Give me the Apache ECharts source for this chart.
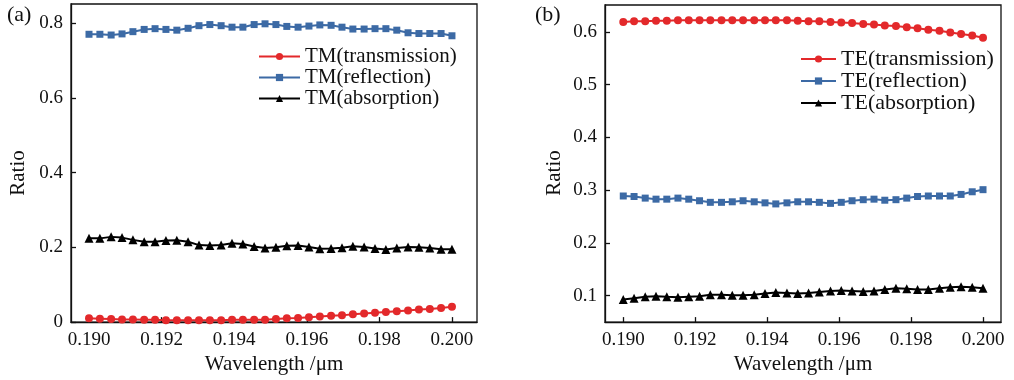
<!DOCTYPE html>
<html><head><meta charset="utf-8">
<script src="https://cdn.jsdelivr.net/npm/echarts@6/dist/echarts.min.js"></script>
<style>html,body{margin:0;padding:0;background:#fff}#c{width:1014px;height:380px}</style>
</head><body><div id="c"></div>
<script>
const wavelength = [0.19000,0.19030,0.19061,0.19091,0.19121,0.19152,0.19182,0.19212,0.19242,0.19273,0.19303,0.19333,0.19364,0.19394,0.19424,0.19455,0.19485,0.19515,0.19545,0.19576,0.19606,0.19636,0.19667,0.19697,0.19727,0.19758,0.19788,0.19818,0.19848,0.19879,0.19909,0.19939,0.19970,0.20000];
const tmTransmission = [0.010,0.009,0.008,0.007,0.007,0.006,0.006,0.005,0.005,0.005,0.005,0.005,0.005,0.006,0.006,0.006,0.006,0.008,0.010,0.011,0.013,0.015,0.017,0.018,0.021,0.023,0.025,0.027,0.029,0.031,0.034,0.035,0.038,0.041];
const tmReflection = [0.770,0.770,0.768,0.771,0.777,0.783,0.785,0.783,0.781,0.786,0.793,0.796,0.793,0.789,0.789,0.796,0.798,0.796,0.791,0.789,0.792,0.795,0.794,0.789,0.784,0.784,0.785,0.785,0.781,0.774,0.772,0.772,0.772,0.766];
const tmAbsorption = [0.224,0.224,0.228,0.226,0.220,0.215,0.215,0.218,0.219,0.215,0.206,0.205,0.206,0.211,0.209,0.202,0.198,0.200,0.204,0.205,0.201,0.196,0.197,0.199,0.203,0.201,0.197,0.194,0.198,0.201,0.200,0.198,0.195,0.195];
const teTransmission = [0.619,0.620,0.620,0.621,0.621,0.622,0.622,0.622,0.622,0.622,0.622,0.622,0.622,0.622,0.622,0.622,0.621,0.620,0.620,0.619,0.618,0.617,0.615,0.614,0.612,0.611,0.609,0.607,0.604,0.602,0.599,0.596,0.593,0.589];
const teReflection = [0.289,0.288,0.285,0.283,0.283,0.285,0.283,0.280,0.277,0.277,0.278,0.280,0.278,0.276,0.274,0.276,0.278,0.278,0.277,0.275,0.277,0.280,0.282,0.283,0.281,0.282,0.285,0.288,0.289,0.289,0.289,0.292,0.297,0.301];
const teAbsorption = [0.093,0.095,0.098,0.099,0.098,0.097,0.098,0.099,0.102,0.102,0.101,0.101,0.102,0.104,0.106,0.105,0.104,0.105,0.107,0.109,0.110,0.109,0.108,0.109,0.112,0.114,0.113,0.112,0.112,0.114,0.116,0.117,0.116,0.114];
const xTicks = [0.190,0.192,0.194,0.196,0.198,0.200];
const yTicksA = [0,0.2,0.4,0.6,0.8];
const yTicksB = [0.1,0.2,0.3,0.4,0.5,0.6];
const namesA = ['TM(transmission)','TM(reflection)','TM(absorption)'];
const namesB = ['TE(transmission)','TE(reflection)','TE(absorption)'];

const FONT = 'Liberation Serif';
const INK = '#111';
const RED = '#e3292b', BLUE = '#3c6aa5', BLACK = '#000';

function pairs(arr){ return wavelength.map((w,i)=>[w, arr[i]]); }
function xAxis(gi, min, max){
  return {type:'value', gridIndex:gi, min, max, name:'Wavelength /μm', nameLocation:'middle', nameGap:27,
    nameTextStyle:{fontFamily:FONT,fontSize:21,color:INK},
    axisLine:{show:true,onZero:false,lineStyle:{color:INK,width:1.3}},
    axisTick:{show:true,inside:true,length:5,customValues:xTicks,lineStyle:{color:INK,width:1.3}},
    axisLabel:{customValues:xTicks,formatter:v=>v.toFixed(3),margin:8,fontFamily:FONT,fontSize:19,color:INK},
    splitLine:{show:false}};
}
function yAxis(gi, min, max, ticks){
  return {type:'value', gridIndex:gi, min, max,
    axisLine:{show:true,onZero:false,lineStyle:{color:INK,width:1.3}},
    axisTick:{show:true,inside:true,length:5,customValues:ticks,lineStyle:{color:INK,width:1.3}},
    axisLabel:{customValues:ticks,formatter:v=>String(+v.toFixed(1)),margin:8,fontFamily:FONT,fontSize:19,color:INK},
    splitLine:{show:false}};
}
function line(name, data, gi, color, symbol, size){
  return {type:'line', name, xAxisIndex:gi, yAxisIndex:gi, data:pairs(data), symbol, symbolSize:size,
    lineStyle:{color,width:2}, itemStyle:{color}, animation:false};
}
const chart = echarts.init(document.getElementById('c'));
chart.setOption({
  backgroundColor:'#fff',
  animation:false,
  grid:[
    {left:71, top:4, width:406, height:321, show:true, borderColor:INK, borderWidth:1.3},
    {left:605, top:5, width:396, height:323, show:true, borderColor:INK, borderWidth:1.3}
  ],
  xAxis:[xAxis(0,0.189504,0.20069), xAxis(1,0.189492,0.2005)],
  yAxis:[yAxis(0,0,0.851,yTicksA), yAxis(1,0.05,0.651,yTicksB)],
  legend:[
    {data:namesA, orient:'vertical', left:253, top:41, itemWidth:41, itemHeight:9, itemGap:0,
      textStyle:{fontFamily:FONT,fontSize:21,lineHeight:20,color:INK}},
    {data:namesB, orient:'vertical', left:795, top:43, itemWidth:35, itemHeight:9, itemGap:0,
      textStyle:{fontFamily:FONT,fontSize:22,lineHeight:22,color:INK}}
  ],
  graphic:[
    {type:'text', left:7, top:4, style:{text:'(a)', font:'22px "Liberation Serif"', fill:INK}},
    {type:'text', left:535, top:4, style:{text:'(b)', font:'22px "Liberation Serif"', fill:INK}},
    {type:'text', x:18, y:173, rotation:Math.PI/2, style:{text:'Ratio', font:'21px "Liberation Serif"', fill:INK, align:'center', verticalAlign:'middle'}},
    {type:'text', x:554, y:173, rotation:Math.PI/2, style:{text:'Ratio', font:'21px "Liberation Serif"', fill:INK, align:'center', verticalAlign:'middle'}}
  ],
  series:[
    line(namesA[0], tmTransmission, 0, RED, 'circle', 8),
    line(namesA[1], tmReflection, 0, BLUE, 'rect', 7),
    line(namesA[2], tmAbsorption, 0, BLACK, 'triangle', 9),
    line(namesB[0], teTransmission, 1, RED, 'circle', 8),
    line(namesB[1], teReflection, 1, BLUE, 'rect', 7),
    line(namesB[2], teAbsorption, 1, BLACK, 'triangle', 9)
  ]
});
</script></body></html>
